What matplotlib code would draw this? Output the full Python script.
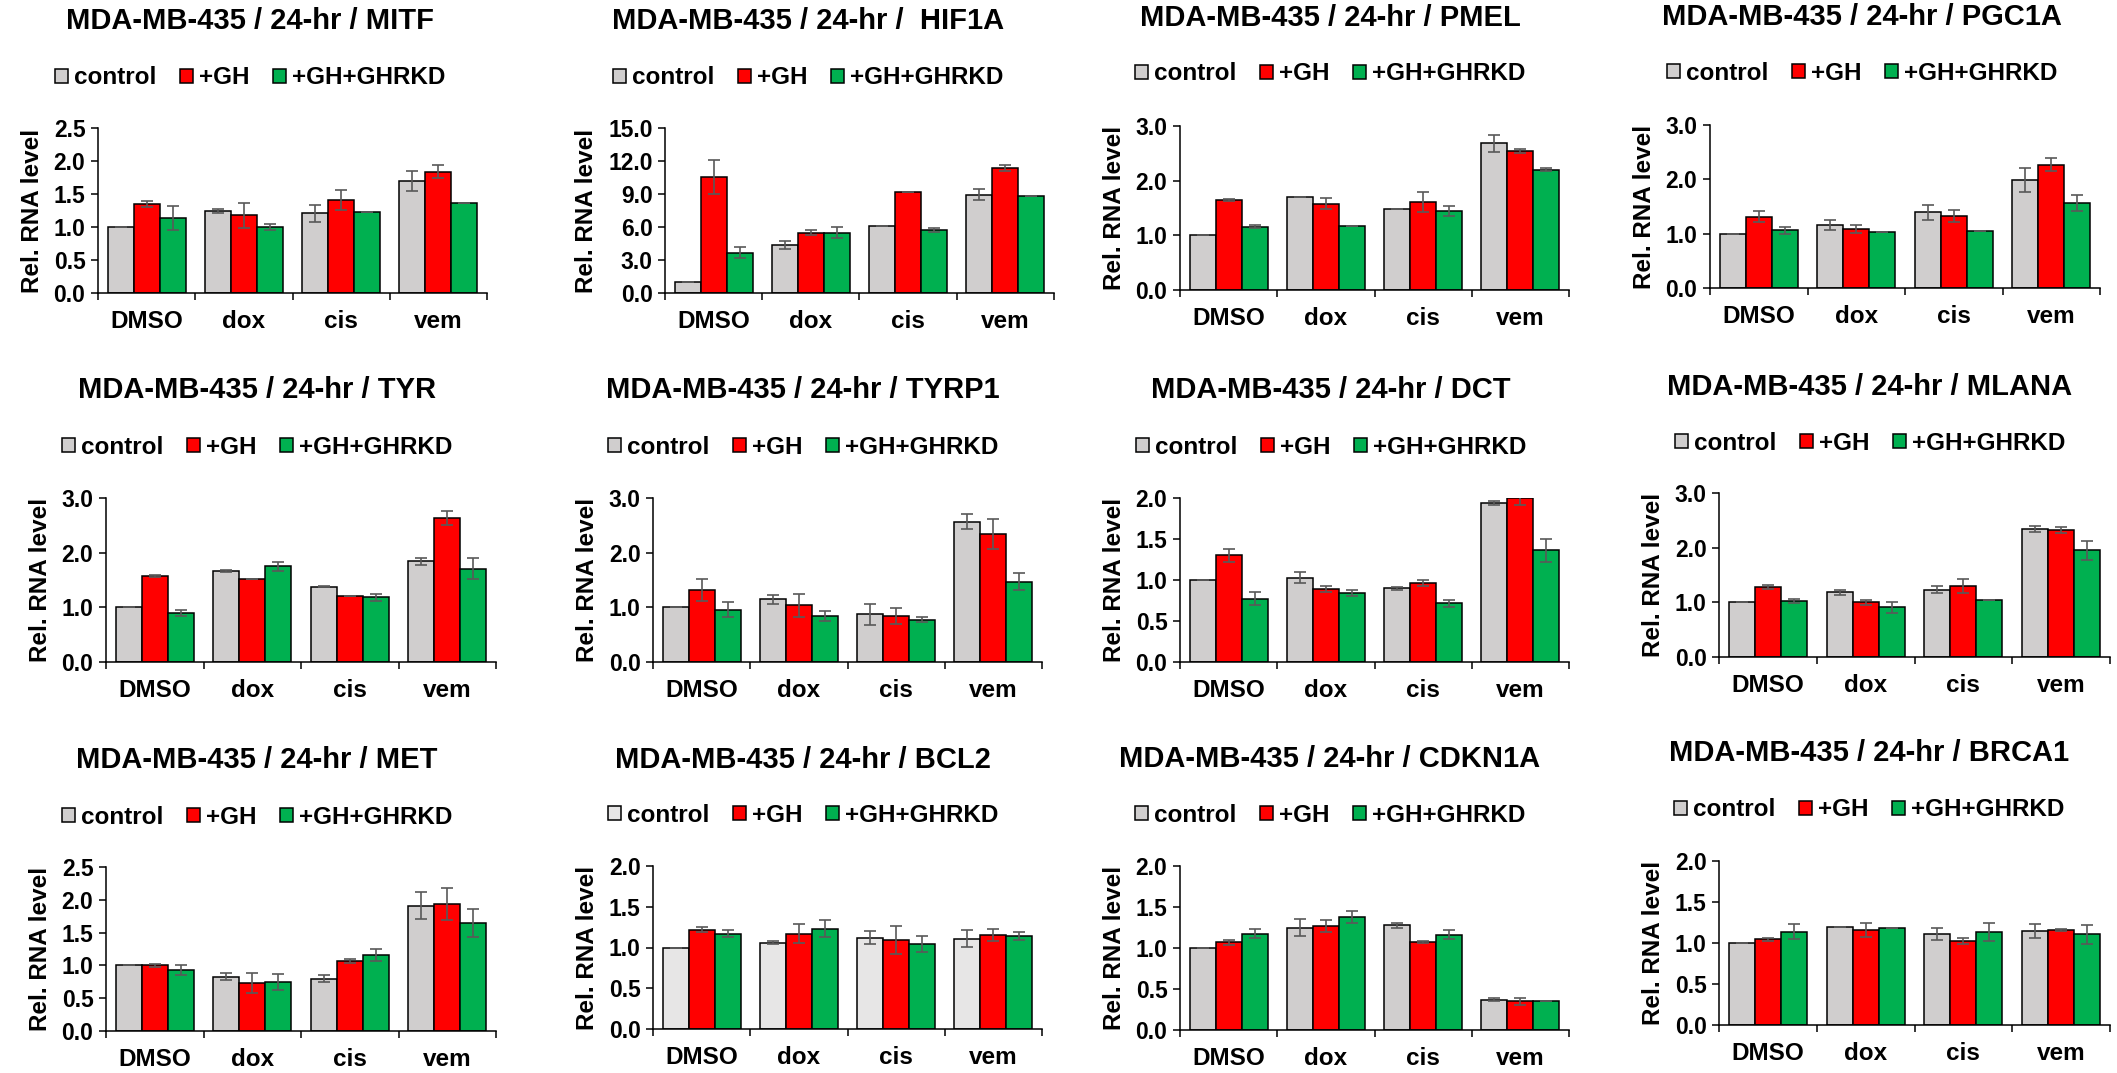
import matplotlib
matplotlib.use("Agg")
import matplotlib.pyplot as plt
from matplotlib.patches import Patch
import numpy as np

plt.rcParams['font.family'] = ['Liberation Sans', 'DejaVu Sans']
plt.rcParams['font.weight'] = 'bold'

# groups and series
treatments = ['DMSO', 'dox', 'cis', 'vem']
series = ['control', '+GH', '+GH+GHRKD']
genes = ['MITF', ' HIF1A', 'PMEL', 'PGC1A', 'TYR', 'TYRP1', 'DCT', 'MLANA',
         'MET', 'BCL2', 'CDKN1A', 'BRCA1']
ymax = [2.5, 15.0, 3.0, 3.0, 3.0, 3.0, 2.0, 3.0, 2.5, 2.0, 2.0, 2.0]
ystep = [0.5, 3.0, 1.0, 1.0, 1.0, 1.0, 0.5, 1.0, 0.5, 0.5, 0.5, 0.5]

# mean values per gene: rows = control, +GH, +GH+GHRKD ; cols = DMSO, dox, cis, vem
means = {
    'MITF':   [[1.00, 1.24, 1.21, 1.70], [1.35, 1.18, 1.41, 1.84], [1.14, 1.00, 1.22, 1.37]],
    ' HIF1A': [[1.00, 4.35, 6.08, 8.91], [10.53, 5.48, 9.19, 11.38], [3.68, 5.50, 5.72, 8.85]],
    'PMEL':   [[1.00, 1.71, 1.49, 2.68], [1.64, 1.58, 1.61, 2.54], [1.16, 1.17, 1.45, 2.20]],
    'PGC1A':  [[1.00, 1.16, 1.39, 1.99], [1.31, 1.09, 1.32, 2.27], [1.06, 1.03, 1.05, 1.57]],
    'TYR':    [[1.00, 1.67, 1.38, 1.84], [1.57, 1.51, 1.20, 2.64], [0.90, 1.75, 1.18, 1.71]],
    'TYRP1':  [[1.00, 1.15, 0.87, 2.57], [1.32, 1.04, 0.84, 2.34], [0.96, 0.84, 0.77, 1.47]],
    'DCT':    [[1.00, 1.03, 0.90, 1.94], [1.30, 0.89, 0.96, 2.00], [0.77, 0.84, 0.715, 1.36]],
    'MLANA':  [[1.00, 1.18, 1.23, 2.34], [1.28, 1.00, 1.30, 2.32], [1.03, 0.91, 1.05, 1.95]],
    'MET':    [[1.00, 0.83, 0.80, 1.91], [1.00, 0.73, 1.07, 1.94], [0.93, 0.745, 1.16, 1.65]],
    'BCL2':   [[1.00, 1.06, 1.12, 1.11], [1.22, 1.17, 1.09, 1.155], [1.17, 1.23, 1.045, 1.14]],
    'CDKN1A': [[1.00, 1.25, 1.28, 0.37], [1.07, 1.27, 1.07, 0.35], [1.175, 1.38, 1.16, 0.355]],
    'BRCA1':  [[1.00, 1.20, 1.11, 1.15], [1.045, 1.155, 1.02, 1.16], [1.14, 1.18, 1.14, 1.105]],
}

# standard error bars, same layout as means
errors = {
    'MITF':   [[0.0, 0.03, 0.13, 0.155], [0.04, 0.19, 0.15, 0.095], [0.18, 0.05, 0.0, 0.0]],
    ' HIF1A': [[0.0, 0.35, 0.0, 0.5], [1.55, 0.25, 0.0, 0.27], [0.53, 0.53, 0.18, 0.0]],
    'PMEL':   [[0.0, 0.0, 0.0, 0.15], [0.02, 0.1, 0.19, 0.04], [0.02, 0.0, 0.09, 0.03]],
    'PGC1A':  [[0.0, 0.085, 0.135, 0.22], [0.1, 0.07, 0.11, 0.12], [0.06, 0.0, 0.0, 0.15]],
    'TYR':    [[0.0, 0.02, 0.01, 0.06], [0.02, 0.0, 0.0, 0.125], [0.06, 0.085, 0.055, 0.2]],
    'TYRP1':  [[0.0, 0.08, 0.19, 0.14], [0.2, 0.21, 0.14, 0.28], [0.14, 0.09, 0.045, 0.16]],
    'DCT':    [[0.0, 0.065, 0.02, 0.02], [0.075, 0.04, 0.035, 0.08], [0.08, 0.04, 0.045, 0.14]],
    'MLANA':  [[0.0, 0.05, 0.06, 0.05], [0.035, 0.05, 0.13, 0.05], [0.04, 0.1, 0.0, 0.17]],
    'MET':    [[0.0, 0.06, 0.05, 0.205], [0.02, 0.155, 0.03, 0.245], [0.08, 0.12, 0.095, 0.215]],
    'BCL2':   [[0.0, 0.015, 0.08, 0.1], [0.03, 0.12, 0.17, 0.07], [0.045, 0.105, 0.1, 0.05]],
    'CDKN1A': [[0.0, 0.105, 0.03, 0.02], [0.03, 0.07, 0.01, 0.04], [0.055, 0.07, 0.055, 0.0]],
    'BRCA1':  [[0.0, 0.0, 0.07, 0.085], [0.015, 0.085, 0.035, 0.01], [0.095, 0.0, 0.11, 0.115]],
}

colors = ['#D0CECE', '#FF0000', '#00B050']
bcl2_control = '#E7E6E6'

W, H = 2117, 1073
# pixel layout: axes x0, x1, y_top, y_bottom, title centre x, title y, legend y
layout = [
    (98, 487, 128, 293, 250, 21, 78),
    (665, 1054, 128, 293, 808, 21, 78),
    (1180, 1569, 126, 290, 1330, 18, 74),
    (1710, 2100, 125, 288, 1862, 17, 73),
    (106, 496, 498, 662, 257, 390, 447),
    (653, 1042, 498, 662, 803, 390, 447),
    (1180, 1569, 498, 662, 1331, 390, 447),
    (1719, 2110, 493, 657, 1870, 387, 443),
    (106, 496, 867, 1031, 257, 760, 817),
    (653, 1042, 866, 1029, 803, 760, 815),
    (1180, 1569, 866, 1030, 1330, 759, 815),
    (1719, 2110, 861, 1025, 1869, 753, 810),
]

fig = plt.figure(figsize=(W / 100, H / 100), dpi=100)

bw = 0.8 / 3
xc = np.arange(len(treatments)) + 0.5

for i, gene in enumerate(genes):
    x0, x1, yt, yb, tx, ty, ly = layout[i]
    ax = fig.add_axes([x0 / W, 1 - yb / H, (x1 - x0) / W, (yb - yt) / H])
    m = np.array(means[gene])
    e = np.array(errors[gene])
    for k in range(3):
        c = colors[k]
        if k == 0 and gene == 'BCL2':
            c = bcl2_control
        xs = xc + (k - 1) * bw
        ax.bar(xs, m[k], width=bw, color=c, edgecolor='black', linewidth=1.1, zorder=2)
        ax.errorbar(xs, m[k], yerr=e[k], fmt='none', ecolor='#595959',
                    elinewidth=1.2, capsize=4.5, capthick=1.2, zorder=3)

    ax.set_xlim(0, 4)
    ax.set_ylim(0, ymax[i])
    ax.set_yticks(np.arange(0, ymax[i] + 1e-9, ystep[i]))
    ax.set_yticklabels(['%.1f' % v for v in np.arange(0, ymax[i] + 1e-9, ystep[i])])
    ax.set_xticks([0, 1, 2, 3, 4])
    ax.set_xticklabels([])
    ax.set_xticks(xc, minor=True)
    ax.set_xticklabels(treatments, minor=True)
    ax.tick_params(axis='x', which='major', direction='out', length=5, width=1.1)
    ax.tick_params(axis='x', which='minor', length=0, pad=12, labelsize=17.5)
    ax.tick_params(axis='y', direction='out', length=5, width=1.1, pad=4, labelsize=16.5)
    for s in ['top', 'right']:
        ax.spines[s].set_visible(False)
    for s in ['left', 'bottom']:
        ax.spines[s].set_linewidth(1.1)
    ax.set_ylabel('Rel. RNA level', fontsize=17.5, fontweight='bold', labelpad=7)

    fig.text(tx / W, 1 - ty / H, 'MDA-MB-435 / 24-hr / ' + gene, ha='center', va='center',
             fontsize=21, fontweight='bold')

    handles = []
    for k in range(3):
        c = colors[k]
        if k == 0 and gene == 'BCL2':
            c = bcl2_control
        handles.append(Patch(facecolor=c, edgecolor='black', linewidth=1.1))
    fig.legend(handles, series, loc='center', bbox_to_anchor=(tx / W, 1 - ly / H), ncol=3,
               frameon=False, fontsize=17.5, handlelength=0.55, handleheight=0.55,
               handletextpad=0.25, columnspacing=0.95, borderpad=0)

fig.savefig('out.png', dpi=100)
